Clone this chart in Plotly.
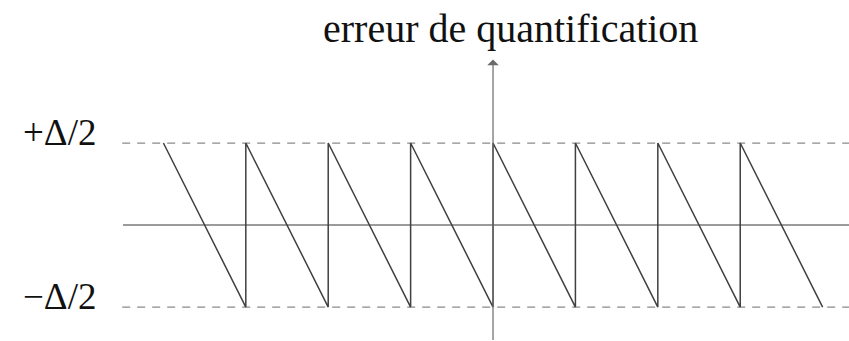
import plotly.graph_objects as go

# Quantisation error of a uniform quantiser, x in steps, y in units of Delta
saw_x = [-4, -3, -3, -2, -2, -1, -1, 0, 0, 1, 1, 2, 2, 3, 3, 4]
saw_y = [0.5, -0.5, 0.5, -0.5, 0.5, -0.5, 0.5, -0.5, 0.5, -0.5, 0.5, -0.5, 0.5, -0.5, 0.5, -0.5]

bound_levels = [0.5, -0.5]
bound_labels = ["+\u0394/2", "\u2212\u0394/2"]
bound_x = [-4.5, 4.32]

axis_x = [-4.49, 4.32]
axis_y_span = [-0.71, 1.01]

title_text = "erreur de quantification"

W, H = 849, 341
x_range = [-5.983, 4.32]
y_range = [-0.707, 1.372]

fig = go.Figure()

# dashed limits at +/- Delta/2
for lvl in bound_levels:
    fig.add_trace(go.Scatter(
        x=bound_x, y=[lvl, lvl], mode="lines",
        line=dict(color="#8a8a8a", width=1.3, dash="8px,7px"),
        hoverinfo="skip", showlegend=False))

# horizontal axis
fig.add_trace(go.Scatter(
    x=axis_x, y=[0, 0], mode="lines",
    line=dict(color="#7a7a7a", width=1.5),
    hoverinfo="skip", showlegend=False))

# sawtooth error curve
fig.add_trace(go.Scatter(
    x=saw_x, y=saw_y, mode="lines",
    line=dict(color="#404040", width=1.5),
    hoverinfo="skip", showlegend=False))

# vertical axis with arrow
fig.add_annotation(
    x=0, y=axis_y_span[1], ax=0, ay=axis_y_span[0],
    xref="x", yref="y", axref="x", ayref="y",
    showarrow=True, arrowhead=1, arrowsize=1.6, arrowwidth=1.2,
    arrowcolor="#6a6a6a", text="")

# title above the axis
fig.add_annotation(
    x=510 / W, y=1 - 28 / H, xref="paper", yref="paper",
    xanchor="center", yanchor="middle", showarrow=False,
    text=title_text,
    font=dict(family="Liberation Serif, Times New Roman, serif", size=40, color="#111111"))

# level labels
for lvl, lab in zip(bound_levels, bound_labels):
    fig.add_annotation(
        x=98 / W, y=lvl, xref="paper", yref="y",
        xanchor="right", yanchor="middle", yshift=11, showarrow=False,
        text=lab,
        font=dict(family="Liberation Serif, Times New Roman, serif", size=37, color="#111111"))

fig.update_xaxes(range=x_range, visible=False, showgrid=False, zeroline=False)
fig.update_yaxes(range=y_range, visible=False, showgrid=False, zeroline=False)

fig.update_layout(
    width=W, height=H,
    margin=dict(l=0, r=0, t=0, b=0),
    paper_bgcolor="white", plot_bgcolor="white",
)

fig.write_html("out.html", config={"displayModeBar": False})
